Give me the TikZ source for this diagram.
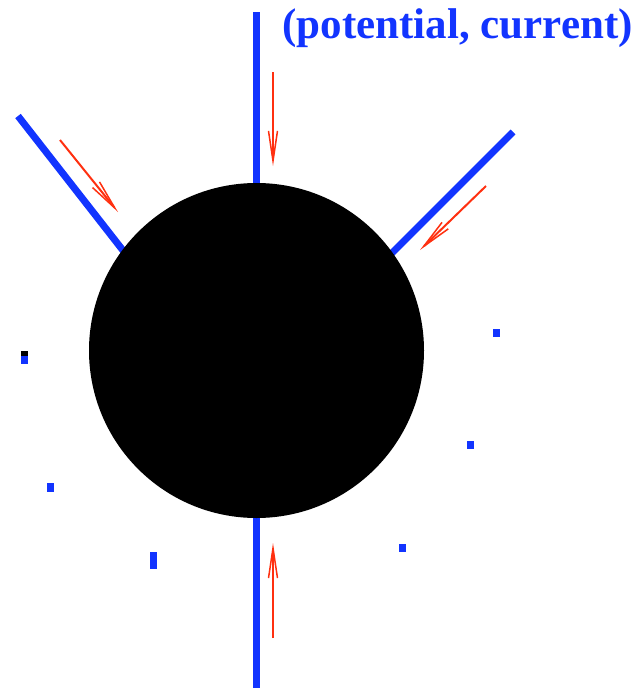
\documentclass[tikz,border=0pt]{standalone}
\usepackage{fontspec}
\setmainfont{Liberation Serif}
\usetikzlibrary{arrows.meta}
\definecolor{wireblue}{RGB}{18,52,255}
\definecolor{flowred}{RGB}{255,48,16}
\tikzset{
  wire/.style={draw=wireblue,line width=7pt},
  flow/.style={draw=flowred,line width=2pt,-{Straight Barb[length=30pt,width=9pt,line width=1.5pt]}},
  speck/.style={fill=wireblue,inner sep=0pt,minimum width=7pt,minimum height=8pt},
  ball/.style={circle,fill=black,inner sep=0pt,minimum size=335pt},
  label/.style={text=wireblue,font=\bfseries\fontsize{43pt}{43pt}\selectfont,inner sep=0pt,anchor=base}
}
\begin{document}
\begin{tikzpicture}[x=1pt,y=-1pt]
\useasboundingbox (0,0) rectangle (637,688);
% wire ends
\coordinate (wtop) at (256.5,12);
\coordinate (wbot) at (256.5,688);
\coordinate (wul) at (18,116);
\coordinate (wur) at (513,132);
\coordinate (c) at (256.5,350.5);
\coordinate (eul) at (132,262);
\coordinate (eur) at (383,262);
% wires
\draw[wire] (wtop) -- (c);
\draw[wire] (wbot) -- (c);
\draw[wire] (wul) -- (eul);
\draw[wire] (wur) -- (eur);
% ball
\node[ball] (body) at (c) {};
% current arrows
\coordinate (a1s) at (273,72);
\coordinate (a1e) at (273,166);
\coordinate (a2s) at (273,638);
\coordinate (a2e) at (273,543);
\coordinate (a3s) at (60,140);
\coordinate (a3e) at (118,212);
\coordinate (a4s) at (486,186);
\coordinate (a4e) at (420,250);
\draw[flow] (a1s) -- (a1e);
\draw[flow] (a2s) -- (a2e);
\draw[flow] (a3s) -- (a3e);
\draw[flow] (a4s) -- (a4e);
% specks
\node[fill=black,inner sep=0pt,minimum width=7pt,minimum height=5pt] (k0) at (24.5,353.5) {};
\node[speck] (k1) at (24.5,360) {};
\node[speck,minimum height=9pt] (k2) at (50.8,487.5) {};
\node[speck,minimum height=17pt] (k3) at (153.5,560.5) {};
\node[speck] (k4) at (402.5,547.5) {};
\node[speck] (k5) at (470.5,445) {};
\node[speck] (k6) at (496.5,333) {};
% label
\node[label] (lab) at (457.5,38) {(potential, current)};
\end{tikzpicture}
\end{document}
